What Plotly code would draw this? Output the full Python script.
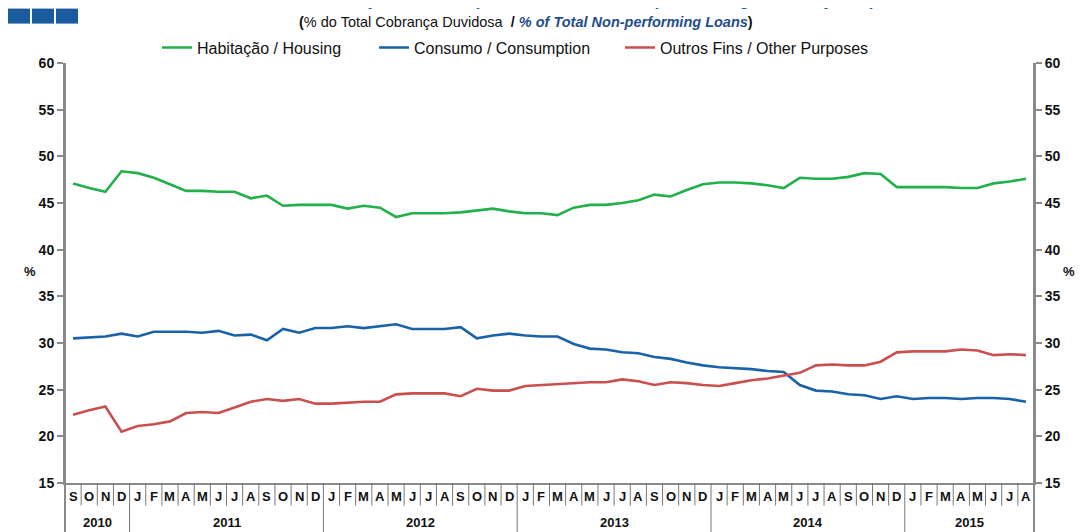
import plotly.graph_objects as go

months = ["S","O","N","D",
          "J","F","M","A","M","J","J","A","S","O","N","D",
          "J","F","M","A","M","J","J","A","S","O","N","D",
          "J","F","M","A","M","J","J","A","S","O","N","D",
          "J","F","M","A","M","J","J","A","S","O","N","D",
          "J","F","M","A","M","J","J","A"]
years = ["2010"]*4 + ["2011"]*12 + ["2012"]*12 + ["2013"]*12 + ["2014"]*12 + ["2015"]*8

housing = [47.1, 46.6, 46.2, 48.4, 48.2, 47.7, 47.0, 46.3, 46.3, 46.2, 46.2, 45.5,
           45.8, 44.7, 44.8, 44.8, 44.8, 44.4, 44.7, 44.5, 43.5, 43.9, 43.9, 43.9,
           44.0, 44.2, 44.4, 44.1, 43.9, 43.9, 43.7, 44.5, 44.8, 44.8, 45.0, 45.3,
           45.9, 45.7, 46.4, 47.0, 47.2, 47.2, 47.1, 46.9, 46.6, 47.7, 47.6, 47.6,
           47.8, 48.2, 48.1, 46.7, 46.7, 46.7, 46.7, 46.6, 46.6, 47.1, 47.3, 47.6]
consumption = [30.5, 30.6, 30.7, 31.0, 30.7, 31.2, 31.2, 31.2, 31.1, 31.3, 30.8, 30.9,
               30.3, 31.5, 31.1, 31.6, 31.6, 31.8, 31.6, 31.8, 32.0, 31.5, 31.5, 31.5,
               31.7, 30.5, 30.8, 31.0, 30.8, 30.7, 30.7, 29.9, 29.4, 29.3, 29.0, 28.9,
               28.5, 28.3, 27.9, 27.6, 27.4, 27.3, 27.2, 27.0, 26.9, 25.5, 24.9, 24.8,
               24.5, 24.4, 24.0, 24.3, 24.0, 24.1, 24.1, 24.0, 24.1, 24.1, 24.0, 23.7]
other = [22.3, 22.8, 23.2, 20.5, 21.1, 21.3, 21.6, 22.5, 22.6, 22.5, 23.1, 23.7,
         24.0, 23.8, 24.0, 23.5, 23.5, 23.6, 23.7, 23.7, 24.5, 24.6, 24.6, 24.6,
         24.3, 25.1, 24.9, 24.9, 25.4, 25.5, 25.6, 25.7, 25.8, 25.8, 26.1, 25.9,
         25.5, 25.8, 25.7, 25.5, 25.4, 25.7, 26.0, 26.2, 26.5, 26.8, 27.6, 27.7,
         27.6, 27.6, 28.0, 29.0, 29.1, 29.1, 29.1, 29.3, 29.2, 28.7, 28.8, 28.7]

series_names = ["Habitação / Housing", "Consumo / Consumption", "Outros Fins / Other Purposes"]
series_colors = ["#21B04B", "#1A62A8", "#C9504E"]

FONT = "Liberation Sans, Arial, sans-serif"
AXIS_COL = "#8a8a8a"
OFF = 8  # page body margin
W, H = 1084 - OFF, 532 - OFF
L = 65 - OFF
R = W - (1034 - OFF)
T = 63.4 - OFF
B = H - (483.4 - OFF)
plot_h = H - T - B
plot_w = W - L - R

def py(ref_pix):
    return (H - B - (ref_pix - OFF)) / plot_h

def px(ref_pix):
    return (ref_pix - OFF - L) / plot_w

x = list(range(len(months)))
legend_ids = ["legend", "legend2", "legend3"]
legend_left = [157, 374, 620]

fig = go.Figure()
for name, vals, col, lg in zip(series_names, [housing, consumption, other], series_colors, legend_ids):
    fig.add_trace(go.Scatter(x=x, y=vals, mode="lines", name=name, legend=lg,
                             line=dict(color=col, width=2.6)))

shapes = []
annotations = []

for i, m in enumerate(months):
    annotations.append(dict(x=i, y=py(497), xref="x", yref="paper", text="<b>%s</b>" % m,
                            showarrow=False, font=dict(family=FONT, size=13, color="#111"),
                            xanchor="center", yanchor="middle"))
for i in range(len(months) - 1):
    y1 = py(540) if years[i] != years[i + 1] else py(506)
    shapes.append(dict(type="line", xref="x", yref="paper", x0=i + 0.5, x1=i + 0.5,
                       y0=0, y1=y1, line=dict(color="#777", width=1)))

uniq = []
for yv in years:
    if yv not in uniq:
        uniq.append(yv)
for yv in uniq:
    idx = [i for i, v in enumerate(years) if v == yv]
    annotations.append(dict(x=(idx[0] + idx[-1]) / 2, y=py(523), xref="x", yref="paper",
                            text="<b>%s</b>" % yv, showarrow=False,
                            font=dict(family=FONT, size=13, color="#111"),
                            xanchor="center", yanchor="middle"))

for xp in [0, 1]:
    shapes.append(dict(type="line", xref="paper", yref="paper", x0=xp, x1=xp,
                       y0=py(540), y1=1, line=dict(color=AXIS_COL, width=2)))

for x0, x1 in [(8, 30), (32, 54), (56, 78)]:
    shapes.append(dict(type="rect", xref="paper", yref="paper", x0=px(x0), x1=px(x1),
                       y0=py(24), y1=py(9), fillcolor="#1A5C9E", line=dict(width=0)))

annotations.append(dict(x=px(22), y=py(272), xref="paper", yref="paper", text="<b>%</b>",
                        showarrow=False, font=dict(family=FONT, size=13, color="#111")))
annotations.append(dict(x=px(1077), y=py(272), xref="paper", yref="paper", text="<b>%</b>",
                        showarrow=False, font=dict(family=FONT, size=13, color="#111")))

annotations.append(dict(x=px(560), y=py(10), xref="paper", yref="paper",
                        text="<b><i>Crédito de Cobrança Duvidosa por Finalidade / Non-performing Loans by Purpose</i></b>",
                        showarrow=False, xanchor="center", yanchor="bottom", borderpad=0,
                        font=dict(family=FONT, size=18, color="#1F5FA8")))
annotations.append(dict(x=px(526), y=py(22), xref="paper", yref="paper",
                        text="<b>(</b>% do Total Cobrança Duvidosa  <b>/</b> <b><i><span style='color:#1F4E8C'>% of Total Non-performing Loans</span></i></b><b>)</b>",
                        showarrow=False, xanchor="center", yanchor="middle",
                        font=dict(family=FONT, size=14.5, color="#111")))

tickv = list(range(15, 61, 5))
yax = dict(range=[15, 60], tickvals=tickv, ticks="outside", ticklen=6, tickwidth=1.5,
           tickcolor=AXIS_COL, showline=True, linecolor=AXIS_COL, linewidth=2,
           showgrid=False, zeroline=False,
           tickfont=dict(family=FONT, size=14, color="#111", weight="bold"))

legends = {}
for lg, left in zip(legend_ids, legend_left):
    legends[lg] = dict(orientation="h", x=px(left), xanchor="left", y=py(48), yanchor="middle",
                       font=dict(family=FONT, size=16, color="#111"), itemwidth=30,
                       bgcolor="rgba(0,0,0,0)", borderwidth=0)

fig.update_layout(
    width=W, height=H,
    margin=dict(l=L, r=R, t=T, b=B, autoexpand=False),
    paper_bgcolor="white", plot_bgcolor="white",
    showlegend=True,
    xaxis=dict(range=[-0.5, len(months) - 0.5], showticklabels=False, ticks="",
               showline=True, linecolor=AXIS_COL, linewidth=2, showgrid=False, zeroline=False),
    yaxis=dict(**yax, side="left"),
    yaxis2=dict(**yax, side="right", overlaying="y", anchor="x"),
    shapes=shapes,
    annotations=annotations,
    **legends,
)
fig.add_trace(go.Scatter(x=[None], y=[None], yaxis="y2", showlegend=False, hoverinfo="skip"))

fig.write_html("out.html")
